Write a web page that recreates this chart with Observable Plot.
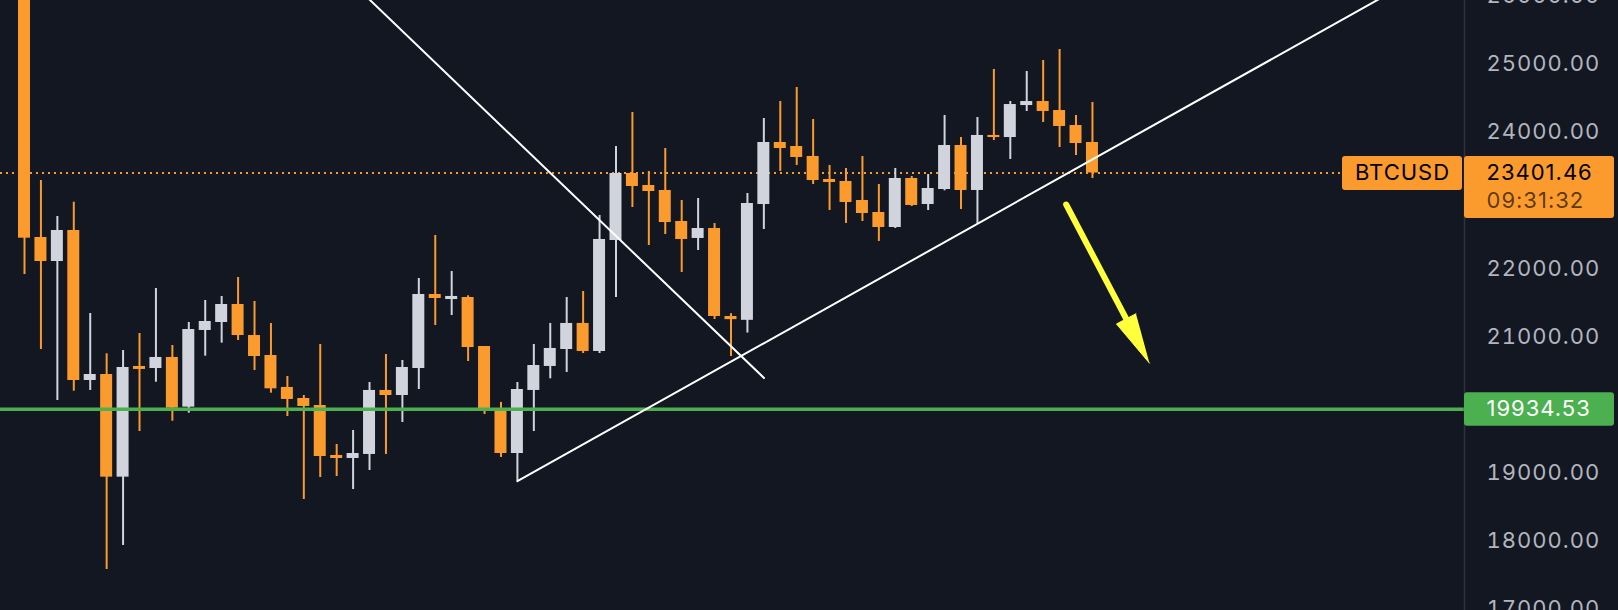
<!DOCTYPE html>
<html>
<head>
<meta charset="utf-8">
<script src="https://cdn.jsdelivr.net/npm/d3@7"></script>
<script src="https://cdn.jsdelivr.net/npm/@observablehq/plot@0.6"></script>
<style>
html, body { margin: 0; padding: 0; background: #131722; }
#chart svg { display: block; }
</style>
</head>
<body>
<div id="chart"></div>
<script>
// ---- data ----
const opens  = [26500,22455,22103,22558,20357,20445,18939,20563,20533,20695,19966,21091,21208,21472,21017,20724,20255,20093,19990,19257,19213,19272,20211,20137,20533,21619,21545,21575,20856,19946,19286,20211,20563,20812,21194,20783,22411,23394,23218,23145,22690,22441,22587,21296,21240,22939,23849,23790,23644,23306,23277,22998,22822,22602,23321,22939,23159,23805,23145,23952,23922,24391,24450,24318,24098,23849];
const highs  = [26800,23291,22763,22973,21340,20749,20797,21047,21707,20871,21208,21531,21590,21868,21516,21194,20416,20137,20885,19418,19624,20328,20739,20651,21854,22485,21956,21600,20856,20035,20328,20885,21194,21575,21663,22778,23790,24289,23424,23761,22998,23027,22660,21337,23101,24201,24450,24656,24186,23512,23468,23644,23233,23468,23350,23379,24245,23922,24216,24920,24450,24891,25052,25213,24245,24436];
const lows   = [21912,20812,20064,20200,20211,17584,17937,19609,20332,19760,19878,20714,20905,20944,20504,20171,19829,18611,18934,18949,18758,19037,19272,19741,20225,21164,21311,20636,19858,19228,18880,19609,20382,20475,20753,20753,21575,22895,22338,22499,21942,22264,21252,20709,21053,22573,23424,23512,23233,22851,22661,22690,22397,22587,22910,22851,23140,22866,22656,23878,23600,24304,24142,23776,23658,23321];
const closes = [22445,22103,22558,20357,20445,18939,20548,20519,20695,19951,21105,21223,21472,21017,20709,20235,20079,19976,19242,19213,19286,20211,20137,20548,21619,21560,21590,20841,19932,19286,20225,20577,20827,21194,20783,22426,23394,23203,23130,22675,22426,22587,21296,21250,22954,23849,23761,23629,23291,23262,22969,22807,22602,23321,22925,23174,23805,23145,23952,23922,24406,24450,24304,24084,23834,23401.46];

const symbol = "BTCUSD";
const lastPrice = 23401.46;
const countdown = "09:31:32";
const supportLevel = 19934.53;
const yTicks = [17000, 18000, 19000, 21000, 22000, 24000, 25000, 26000];

// drawn trend lines (bar index, price)
const fallIdx = [20, 45.01];
const fallVal = [26177, 20394];
const riseIdx = [30, 90];
const riseVal = [18880, 26972];
// yellow arrow (bar index, price): start, tip
const arrowIdx = [63.40, 68.47];
const arrowVal = [22939, 20612];

// ---- layout / style ----
const W = 1618, H = 610, mR = 154;
const xDomain = [-1.4607, 87.644];
const yDomain = [16982.7, 25932.2];
const X = d3.scaleLinear(xDomain, [0, W - mR]);
const Y = d3.scaleLinear(yDomain, [H, 0]);
const UP = "#d1d4dc", DOWN = "#fb9b2d", GREEN = "#4caf50", YELLOW = "#ffff3b", AXIS = "#b2b5be";

const candles = opens.map((o, i) => ({i, open: o, high: highs[i], low: lows[i], close: closes[i], up: closes[i] >= o}));
const upC = candles.filter(d => d.up), downC = candles.filter(d => !d.up);
const fallLine = fallIdx.map((i, k) => ({i, v: fallVal[k]}));
const riseLine = riseIdx.map((i, k) => ({i, v: riseVal[k]}));

// arrow geometry in pixels -> back to data
const ax0 = X(arrowIdx[0]), ay0 = Y(arrowVal[0]), ax1 = X(arrowIdx[1]), ay1 = Y(arrowVal[1]);
const L = Math.hypot(ax1 - ax0, ay1 - ay0), ux = (ax1 - ax0) / L, uy = (ay1 - ay0) / L;
const headLen = 50, headHalf = 11;
const bx = ax1 - ux * headLen, by = ay1 - uy * headLen;
const head = [[ax1, ay1], [bx - uy * headHalf, by + ux * headHalf], [bx + uy * headHalf, by - ux * headHalf]]
  .map(([px, py]) => ({i: X.invert(px), v: Y.invert(py)}));
const shaft = [{i: arrowIdx[0], v: arrowVal[0]}, {i: X.invert(bx + ux * 4), v: Y.invert(by + uy * 4)}];

const px = p => X.invert(p);
const yOff = (v, d) => Y.invert(Y(v) + d);
const bw = 0.365;

const chart = Plot.plot({
  width: W, height: H,
  marginLeft: 0, marginRight: mR, marginTop: 0, marginBottom: 0,
  style: {background: "#131722", fontFamily: "Inter, 'DejaVu Sans', sans-serif", fontSize: "22px", color: AXIS, overflow: "hidden", letterSpacing: "1px"},
  x: {domain: xDomain, axis: null},
  y: {domain: yDomain, axis: "right", ticks: yTicks, tickSize: 0, tickPadding: 22, tickFormat: d => d.toFixed(2), label: null},
  marks: [
    Plot.ruleY([lastPrice], {x1: xDomain[0], x2: px(1342), stroke: DOWN, strokeWidth: 2, strokeDasharray: "2,4"}),
    Plot.ruleX(upC, {x: "i", y1: "low", y2: "high", stroke: UP, strokeWidth: 2, clip: true}),
    Plot.ruleX(downC, {x: "i", y1: "low", y2: "high", stroke: DOWN, strokeWidth: 2, clip: true}),
    Plot.rect(upC, {x1: d => d.i - bw, x2: d => d.i + bw, y1: "open", y2: "close", fill: UP, clip: true}),
    Plot.rect(downC, {x1: d => d.i - bw, x2: d => d.i + bw, y1: "open", y2: "close", fill: DOWN, clip: true}),
    Plot.ruleY([supportLevel], {stroke: GREEN, strokeWidth: 3.5}),
    Plot.line(fallLine, {x: "i", y: "v", stroke: "#ffffff", strokeWidth: 2, clip: true}),
    Plot.line(riseLine, {x: "i", y: "v", stroke: "#ffffff", strokeWidth: 2, clip: true}),
    Plot.line(shaft, {x: "i", y: "v", stroke: YELLOW, strokeWidth: 6, strokeLinecap: "round"}),
    Plot.line(head, {x: "i", y: "v", fill: YELLOW, stroke: YELLOW, strokeWidth: 1, strokeLinejoin: "round"}),
    Plot.ruleX([xDomain[1]], {stroke: "#2f333e", strokeWidth: 1.5}),
    // symbol label
    Plot.rect([lastPrice], {x1: px(1342), x2: px(1462), y1: d => yOff(d, -16.5), y2: d => yOff(d, 17.5), fill: DOWN, rx: 3}),
    Plot.text([symbol], {x: px(1402), y: lastPrice, text: d => d, fill: "#000", fontSize: 22, textAnchor: "middle"}),
    // last price label
    Plot.rect([lastPrice], {x1: px(1464), x2: px(1614), y1: d => yOff(d, -16.5), y2: d => yOff(d, 45.5), fill: DOWN, rx: 3}),
    Plot.text([lastPrice], {x: px(1486), y: d => d, text: d => d.toFixed(2), fill: "#000", fontSize: 22, textAnchor: "start"}),
    Plot.text([countdown], {x: px(1486), y: lastPrice, dy: 28, text: d => d, fill: "#000", fillOpacity: 0.65, fontSize: 22, textAnchor: "start"}),
    // support label
    Plot.rect([supportLevel], {x1: px(1464), x2: px(1614), y1: d => yOff(d, -16.5), y2: d => yOff(d, 17), fill: GREEN, rx: 3}),
    Plot.text([supportLevel], {x: px(1486), y: d => d, text: d => d.toFixed(2), fill: "#ffffff", fontSize: 22, textAnchor: "start"})
  ]
});
document.getElementById("chart").appendChild(chart);
</script>
</body>
</html>
